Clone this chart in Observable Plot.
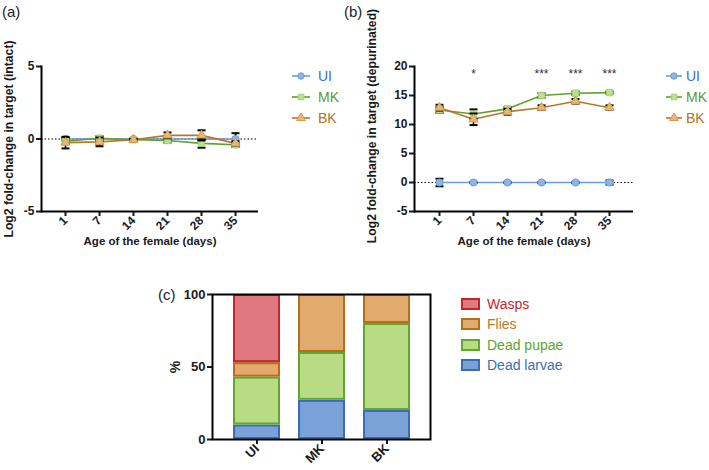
<!DOCTYPE html>
<html>
<head>
<meta charset="utf-8">
<script src="https://cdn.jsdelivr.net/npm/d3@7"></script>
<script src="https://cdn.jsdelivr.net/npm/@observablehq/plot@0.6"></script>
<style>
  html, body { margin: 0; padding: 0; background: #fff; }
  #root { position: relative; width: 709px; height: 470px; overflow: hidden; background: #fff;
          font-family: "Liberation Sans", Arial, Helvetica, sans-serif; }
  .panel { position: absolute; }
  .tag { position: absolute; font-size: 15px; color: #222; }
  .leg { position: absolute; font-size: 14px; }
  .leg div { display: flex; align-items: center; height: 21px; }
  .legc div { display: flex; align-items: center; height: 20.3px; }
  .legc span.sw { display: inline-block; width: 15px; height: 8px; border: 2px solid; margin-right: 7px; }
</style>
</head>
<body>
<div id="root"></div>
<script>
// ---------- data ----------
const days = ["1", "7", "14", "21", "28", "35"];
const seriesNames = ["UI", "MK", "BK"];

// panel (a): intact target
const aUI = [0, 0, 0, 0, 0, 0];
const aUIerr = [0.1, 0.05, 0.05, 0.05, 0.05, 0.4];
const aMK = [-0.15, 0.05, -0.05, -0.1, -0.3, -0.4];
const aMKerr = [0.2, 0.15, 0.05, 0.15, 0.3, 0.15];
const aBK = [-0.25, -0.2, -0.05, 0.25, 0.25, -0.3];
const aBKerr = [0.4, 0.3, 0.05, 0.2, 0.35, 0.15];

// panel (b): depurinated target
const bUI = [0, 0, 0, 0, 0, 0];
const bUIerr = [0.65, 0.05, 0.1, 0.1, 0.1, 0.35];
const bMK = [12.5, 11.8, 12.7, 15.0, 15.4, 15.5];
const bMKerr = [0.5, 0.8, 0.3, 0.4, 0.3, 0.2];
const bBK = [12.9, 10.9, 12.2, 12.9, 14.0, 12.9];
const bBKerr = [0.5, 1.0, 0.5, 0.4, 0.4, 0.4];
const bStars = ["", "*", "", "***", "***", "***"];
const starLevel = 18.7;

// panel (c): outcome percentages
const groups = ["UI", "MK", "BK"];
const outcomes = ["Dead larvae", "Dead pupae", "Flies", "Wasps"];
const deadLarvae = [10, 27, 20];
const deadPupae = [33, 33, 60];
const flies = [10, 40, 20];
const wasps = [47, 0, 0];

// ---------- styles ----------
const FONT = '"Liberation Sans", Arial, Helvetica, sans-serif';
const lineColor = {UI: "#6b9bd8", MK: "#5fa033", BK: "#b7772a"};
const markFill = {UI: "#90b5e4", MK: "#bcdf92", BK: "#e8b777"};
const markStroke = {UI: "#6b9bd8", MK: "#a6d077", BK: "#d39a4f"};
const textColor = {UI: "#3d6fb6", MK: "#5a9a30", BK: "#b4731f"};
const symbolOf = {UI: "circle", MK: "square", BK: "triangle"};
const outFill = {"Wasps": "#e07880", "Flies": "#e2aa6d", "Dead pupae": "#b8dc84", "Dead larvae": "#7ba2d8"};
const outStroke = {"Wasps": "#c1272d", "Flies": "#b46e1c", "Dead pupae": "#62a532", "Dead larvae": "#3a6db4"};
const outText = {"Wasps": "#c1272d", "Flies": "#c07a28", "Dead pupae": "#5ea431", "Dead larvae": "#3a6db4"};

const capSymbol = {
  draw(ctx, size) {
    const r = Math.sqrt(size / Math.PI);
    ctx.moveTo(-r, 0); ctx.lineTo(r, 0);
  }
};

const root = document.getElementById("root");

function place(el, left, top, cls) {
  const wrap = document.createElement("div");
  wrap.className = cls || "panel";
  wrap.style.left = left + "px";
  wrap.style.top = top + "px";
  if (typeof el === "string") wrap.innerHTML = el; else wrap.appendChild(el);
  root.appendChild(wrap);
  return wrap;
}

function rowsFor(vals) {
  const out = [];
  seriesNames.forEach((s, k) => {
    const v = vals[k][0], e = vals[k][1];
    days.forEach((d, i) => out.push({day: d, series: s, value: v[i], err: e[i]}));
  });
  return out;
}

function shiftYLabel(svg, dy) {
  if (!dy) return;
  const g = svg.querySelector('[aria-label="y-axis label"]');
  if (g) g.setAttribute("transform", `translate(0,${dy}) ` + (g.getAttribute("transform") || ""));
}

function linePanel(rows, yDomain, yTicks, yLabel, marginLeft, marginRight, yLabelOffset, yLabelDy, extra) {
  const marks = [
    Plot.ruleY([0], {stroke: "#000", strokeWidth: 1.2, strokeDasharray: "1.5,2"}),
  ];
  for (const s of seriesNames) {
    const r = rows.filter(d => d.series === s);
    marks.push(Plot.lineY(r, {x: "day", y: "value", stroke: lineColor[s], strokeWidth: 1.6}));
  }
  for (const s of seriesNames) {
    const r = rows.filter(d => d.series === s);
    marks.push(Plot.ruleX(r, {x: "day", y1: d => d.value - d.err, y2: d => d.value + d.err, stroke: "#000", strokeWidth: 1.6}));
    marks.push(Plot.dot(r, {x: "day", y: d => d.value + d.err, symbol: capSymbol, r: 4, stroke: "#000", strokeWidth: 2}));
    marks.push(Plot.dot(r, {x: "day", y: d => d.value - d.err, symbol: capSymbol, r: 4, stroke: "#000", strokeWidth: 2}));
    marks.push(Plot.dot(r, {x: "day", y: "value", symbol: symbolOf[s], r: s === "BK" ? 3.4 : 3.6, fill: markFill[s], stroke: markStroke[s], strokeWidth: 1}));
  }
  if (extra) marks.push(...extra);
  marks.push(
    Plot.axisY({ticks: yTicks, tickSize: 5, tickPadding: 2, strokeWidth: 2, tickFormat: d => String(d),
      fontWeight: "bold", fontSize: 12, label: null}),
    Plot.axisY({ticks: [], label: yLabel, labelAnchor: "center", labelArrow: "none", labelOffset: yLabelOffset,
      fontWeight: "bold", fontSize: 12.2}),
    Plot.axisX({tickSize: 5, tickPadding: 2, strokeWidth: 2, tickRotate: -45, fontWeight: "bold", fontSize: 12, label: null}),
    Plot.axisX({ticks: [], label: "Age of the female (days)", labelAnchor: "center", labelArrow: "none", labelOffset: 33,
      fontWeight: "bold", fontSize: 11.5}),
    Plot.ruleY([yDomain[0]], {stroke: "#000", strokeWidth: 2}),
    Plot.frame({anchor: "left", stroke: "#000", strokeWidth: 2})
  );
  const svg = Plot.plot({
    width: 300, height: 255,
    marginLeft, marginRight, marginTop: 66, marginBottom: 44,
    style: {fontFamily: FONT, color: "#1a1a1a", background: "transparent", overflow: "visible"},
    x: {type: "point", domain: days, padding: 0.66},
    y: {domain: yDomain},
    marks
  });
  shiftYLabel(svg, yLabelDy);
  return svg;
}

// ---------- panel (a) ----------
const rowsA = rowsFor([[aUI, aUIerr], [aMK, aMKerr], [aBK, aBKerr]]);
place(linePanel(rowsA, [-5, 5], [-5, 0, 5], "Log2 fold-change in target (intact)", 41, 42, 37, 0), 0, 0);

// ---------- panel (b) ----------
const rowsB = rowsFor([[bUI, bUIerr], [bMK, bMKerr], [bBK, bBKerr]]);
const starRows = days.map((d, i) => ({day: d, label: bStars[i]}));
const starMark = Plot.text(starRows, {x: "day", y: () => starLevel, text: "label", fontSize: 12, fill: "#333", lineAnchor: "middle"});
place(linePanel(rowsB, [-5, 20], [-5, 0, 5, 10, 15, 20], "Log2 fold-change in target (depurinated)", 49, 32, 47, -13, [starMark]), 365, 0);

// ---------- legends (a) and (b) ----------
function seriesLegend(iconW, gap, fontSize) {
  let html = "";
  for (const s of seriesNames) {
    const name = "symbol" + symbolOf[s][0].toUpperCase() + symbolOf[s].slice(1);
    const sym = d3.symbol(d3[name], s === "BK" ? 34 : 32)();
    const h = iconW / 2;
    html += `<div style="color:${textColor[s]};font-size:${fontSize}px"><svg width="${iconW}" height="12" viewBox="${-h} -6 ${iconW} 12" style="margin-right:${gap}px">
      <line x1="${-h}" x2="${h}" y1="0" y2="0" stroke="${lineColor[s]}" stroke-width="1.6"/>
      <path d="${sym}" fill="${markFill[s]}" stroke="${markStroke[s]}" stroke-width="1"/></svg>${s}</div>`;
  }
  return html;
}
place(seriesLegend(18, 8, 14), 292, 65, "leg");
place(seriesLegend(16, 4, 14), 666, 65, "leg");

// ---------- panel (c) ----------
const rowsC = [];
groups.forEach((g, i) => {
  const vals = {"Dead larvae": deadLarvae[i], "Dead pupae": deadPupae[i], "Flies": flies[i], "Wasps": wasps[i]};
  for (const o of outcomes) rowsC.push({group: g, outcome: o, value: vals[o]});
});
const chartC = Plot.plot({
  width: 285, height: 220,
  marginLeft: 62, marginRight: 5, marginTop: 44, marginBottom: 31,
  style: {fontFamily: FONT, color: "#1a1a1a", background: "transparent", overflow: "visible"},
  x: {type: "band", domain: groups, paddingInner: 0.31, paddingOuter: 0.32},
  y: {domain: [0, 100]},
  color: {type: "identity"},
  marks: [
    Plot.barY(rowsC.filter(d => d.value > 0), {x: "group", y: "value", order: null,
      fill: d => outFill[d.outcome], stroke: d => outStroke[d.outcome], strokeWidth: 2,
      insetTop: 1, insetBottom: 1}),
    Plot.axisY({ticks: [0, 50, 100], tickSize: 5, tickPadding: 2, strokeWidth: 2, fontWeight: "bold", fontSize: 13,
      label: null}),
    Plot.axisY({ticks: [], label: "%", labelAnchor: "center", labelArrow: "none", labelOffset: 42, fontWeight: "bold", fontSize: 14}),
    Plot.axisX({tickSize: 5, tickPadding: 2, strokeWidth: 2, tickRotate: -45, fontWeight: "bold", fontSize: 13, label: null}),
    Plot.frame({stroke: "#000", strokeWidth: 2})
  ]
});
place(chartC, 150, 250);

// legend (c)
let legC = "";
for (const o of [...outcomes].reverse()) {
  legC += `<div style="color:${outText[o]}"><span class="sw" style="background:${outFill[o]};border-color:${outStroke[o]}"></span>${o}</div>`;
}
place(legC, 461, 294, "leg legc");

// panel tags
place("(a)", 2, 3, "tag");
place("(b)", 344, 3, "tag");
place("(c)", 158, 286, "tag");
</script>
</body>
</html>
